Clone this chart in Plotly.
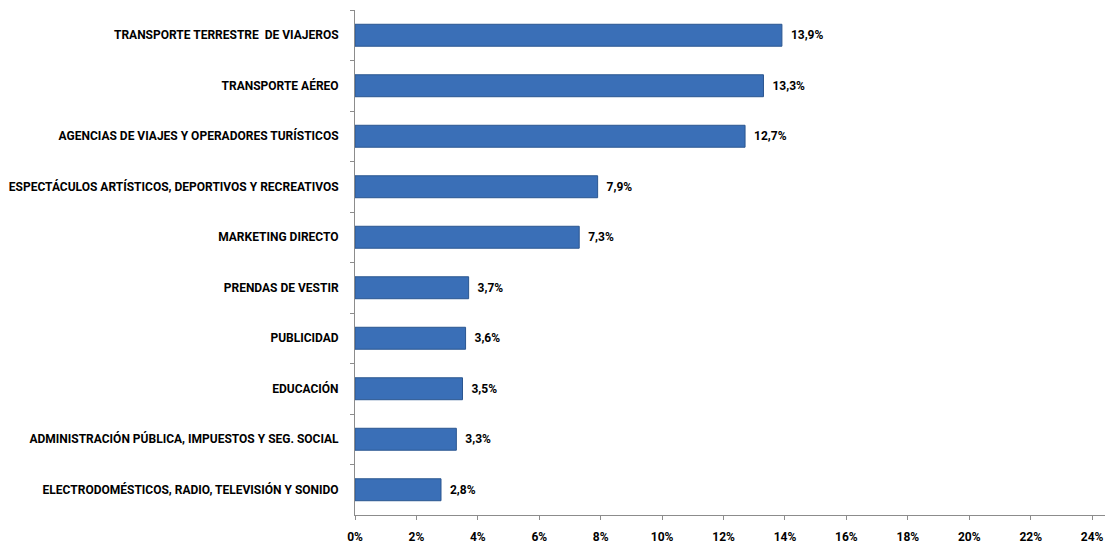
import plotly.graph_objects as go

categories = [
    "TRANSPORTE TERRESTRE  DE VIAJEROS",
    "TRANSPORTE AÉREO",
    "AGENCIAS DE VIAJES Y OPERADORES TURÍSTICOS",
    "ESPECTÁCULOS ARTÍSTICOS, DEPORTIVOS Y RECREATIVOS",
    "MARKETING DIRECTO",
    "PRENDAS DE VESTIR",
    "PUBLICIDAD",
    "EDUCACIÓN",
    "ADMINISTRACIÓN PÚBLICA, IMPUESTOS Y SEG. SOCIAL",
    "ELECTRODOMÉSTICOS, RADIO, TELEVISIÓN Y SONIDO",
]
values = [13.9, 13.3, 12.7, 7.9, 7.3, 3.7, 3.6, 3.5, 3.3, 2.8]
labels = ["13,9%", "13,3%", "12,7%", "7,9%", "7,3%", "3,7%", "3,6%", "3,5%", "3,3%", "2,8%"]
tick_vals = [0, 2, 4, 6, 8, 10, 12, 14, 16, 18, 20, 22, 24]
tick_text = ["0%", "2%", "4%", "6%", "8%", "10%", "12%", "14%", "16%", "18%", "20%", "22%", "24%"]

font_family = "Roboto, Liberation Sans, sans-serif"

fig = go.Figure(
    go.Bar(
        y=categories,
        x=values,
        orientation="h",
        marker=dict(color="#3A6FB7", line=dict(color="#2B5690", width=1)),
        text=labels,
        texttemplate="  %{text}",
        textposition="outside",
        cliponaxis=False,
        textfont=dict(family=font_family, size=12, color="#000000", weight="bold"),
    )
)

fig.update_layout(
    width=1105,
    height=537,
    margin=dict(l=347, r=0, t=2, b=30),
    paper_bgcolor="white",
    plot_bgcolor="white",
    bargap=0.565,
    showlegend=False,
    font=dict(family=font_family, size=12, color="#000000"),
)

fig.update_xaxes(
    range=[0, 24.68],
    tickvals=tick_vals,
    ticktext=tick_text,
    showgrid=False,
    zeroline=False,
    showline=True,
    linecolor="#8C8C8C",
    linewidth=1,
    ticks="outside",
    ticklen=4,
    tickcolor="#8C8C8C",
    ticklabelstandoff=7,
    automargin=False,
    tickfont=dict(family=font_family, size=12, color="#000000", weight="bold"),
)

fig.update_yaxes(
    autorange="reversed",
    showgrid=False,
    showline=True,
    linecolor="#8C8C8C",
    linewidth=1,
    ticks="outside",
    tickson="boundaries",
    ticklen=4,
    tickcolor="#8C8C8C",
    ticklabelstandoff=13,
    automargin=False,
    tickfont=dict(family=font_family, size=12, color="#000000", weight="bold"),
)

fig.write_html("out.html")
